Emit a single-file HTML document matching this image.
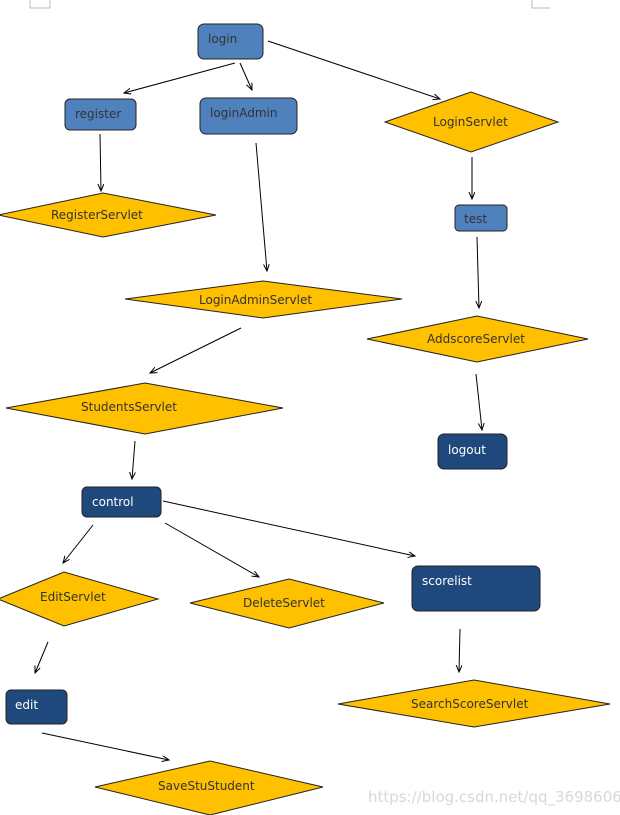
<!DOCTYPE html>
<html><head><meta charset="utf-8"><style>
html,body{margin:0;padding:0;background:#fff;width:620px;height:815px;overflow:hidden}
text{font-family:"DejaVu Sans","Liberation Sans",sans-serif;font-size:12px}
</style></head><body>
<svg width="620" height="815" viewBox="0 0 620 815" xmlns="http://www.w3.org/2000/svg">
<defs><marker id="a" markerWidth="8" markerHeight="8" refX="7" refY="3" orient="auto" markerUnits="userSpaceOnUse"><path d="M0,0 L7,3 L0,6" fill="none" stroke="#000" stroke-width="1"/></marker></defs>
<path d="M30,0 V8 H50 V0" fill="none" stroke="#bbb"/>
<path d="M532,0 V8 H550" fill="none" stroke="#bbb"/>
<g stroke="#222" stroke-width="1">
<rect x="198" y="24" width="65" height="35" rx="6" fill="#4f81bd"/>
<rect x="65" y="99" width="71" height="31" rx="5" fill="#4f81bd"/>
<rect x="200" y="98" width="97" height="36" rx="6" fill="#4f81bd"/>
<rect x="455" y="205" width="52" height="26" rx="4" fill="#4f81bd"/>
<rect x="438" y="434" width="69" height="35" rx="6" fill="#1f497d"/>
<rect x="82" y="487" width="79" height="30" rx="5" fill="#1f497d"/>
<rect x="412" y="566" width="128" height="45" rx="6" fill="#1f497d"/>
<rect x="6" y="690" width="61" height="34" rx="5" fill="#1f497d"/>
<g fill="#ffc000">
<polygon points="-2,215 103,193 216,215 103,237"/>
<polygon points="385,122 471,92 558,122 471,152"/>
<polygon points="125,299 263,281 402,299 263,318"/>
<polygon points="367,339 477,316 588,339 477,362"/>
<polygon points="6,408 145,383 283,408 145,434"/>
<polygon points="-2,599 64,572 158,599 64,626"/>
<polygon points="190,603 289,579 384,603 289,628"/>
<polygon points="338,704 474,680 610,704 474,727"/>
<polygon points="95,787 210,761 323,787 210,815"/>
</g>
</g>
<g stroke="#000" stroke-width="1" marker-end="url(#a)" fill="none">
<line x1="235" y1="63" x2="124" y2="93"/>
<line x1="240" y1="63" x2="252" y2="90"/>
<line x1="268" y1="41" x2="440" y2="99"/>
<line x1="100" y1="134" x2="101" y2="191"/>
<line x1="256" y1="143" x2="267" y2="271"/>
<line x1="472" y1="157" x2="472" y2="199"/>
<line x1="477" y1="237" x2="479" y2="308"/>
<line x1="476" y1="374" x2="482" y2="430"/>
<line x1="241" y1="328" x2="150" y2="373"/>
<line x1="135" y1="441" x2="132" y2="479"/>
<line x1="93" y1="525" x2="63" y2="563"/>
<line x1="165" y1="523" x2="259" y2="577"/>
<line x1="163" y1="501" x2="415" y2="556"/>
<line x1="48" y1="642" x2="35" y2="673"/>
<line x1="42" y1="733" x2="169" y2="760"/>
<line x1="460" y1="629" x2="459" y2="672"/>
</g>
<g fill="#333">
<text x="208" y="43">login</text>
<text x="75" y="118">register</text>
<text x="210" y="117">loginAdmin</text>
<text x="464" y="223">test</text>
<text x="51" y="219">RegisterServlet</text>
<text x="433" y="126">LoginServlet</text>
<text x="199" y="304">LoginAdminServlet</text>
<text x="427" y="343">AddscoreServlet</text>
<text x="81" y="411">StudentsServlet</text>
<text x="40" y="601">EditServlet</text>
<text x="243" y="607">DeleteServlet</text>
<text x="411" y="708">SearchScoreServlet</text>
<text x="158" y="790">SaveStuStudent</text>
</g>
<g fill="#fff">
<text x="448" y="454">logout</text>
<text x="92" y="506">control</text>
<text x="422" y="585">scorelist</text>
<text x="15" y="709">edit</text>
</g>
<text x="368" y="802" fill="#d8d8d8" font-size="15" style="font-size:15px">https://blog.csdn.net/qq_36986067</text>
</svg>
</body></html>
